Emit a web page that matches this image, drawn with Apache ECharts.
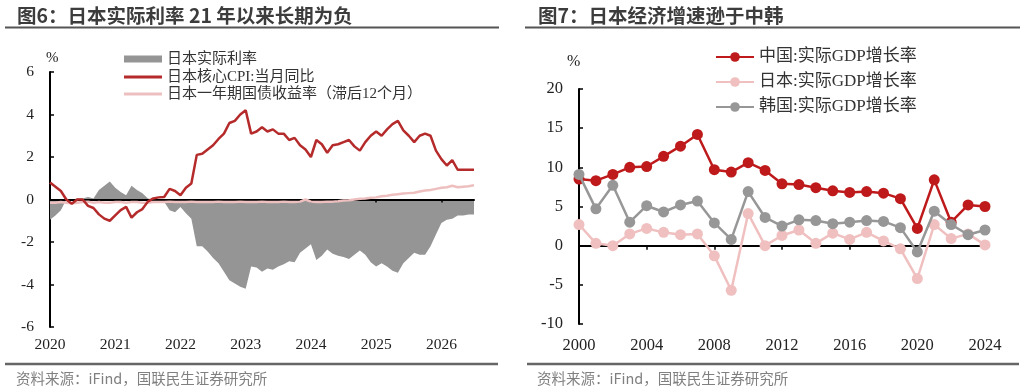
<!DOCTYPE html>
<html>
<head>
<meta charset="utf-8">
<script src="https://cdn.jsdelivr.net/npm/echarts@6/dist/echarts.min.js"></script>
<style>
html,body{margin:0;padding:0;background:#fff;}
#c{width:1024px;height:392px;}
</style>
</head>
<body>
<div id="c"></div>
<script>
// ---------- Left chart data (monthly, 2020-01 .. 2026-07) ----------
var leftYears = [2020, 2021, 2022, 2023, 2024, 2025, 2026];
var leftMonthCount = 79;
var realRate = [-0.95,-0.75,-0.5,0,0,0.05,0.05,0.12,0.05,0.45,
  0.65,0.85,0.55,0.35,0.2,0.65,0.45,0.3,0.05,0,
  -0.1,-0.1,-0.5,-0.6,-0.35,-0.65,-0.9,-2.2,-2.2,-2.45,
  -2.75,-3.0,-3.4,-3.8,-3.95,-4.1,-4.2,-3.15,-3.2,-3.4,
  -3.25,-3.3,-3.15,-3.05,-2.9,-2.95,-2.5,-2.3,-2.1,-2.85,
  -2.65,-2.35,-2.55,-2.65,-2.7,-2.8,-2.6,-2.4,-2.6,-2.95,
  -3.15,-3.0,-3.15,-3.35,-3.45,-3.0,-2.75,-2.5,-2.6,-2.6,
  -2.2,-1.65,-1.1,-0.95,-0.9,-0.75,-0.75,-0.7,-0.7];
var coreCPI = [0.8,0.6,0.4,0.0,-0.2,0.0,0.0,-0.3,-0.4,-0.7,
  -0.9,-1.0,-0.75,-0.5,-0.35,-0.85,-0.6,-0.45,-0.1,0.05,
  0.1,0.12,0.5,0.4,0.2,0.55,0.75,2.1,2.15,2.35,
  2.55,2.85,3.1,3.6,3.7,4.0,4.2,3.1,3.2,3.4,
  3.2,3.3,3.1,3.1,2.8,2.9,2.55,2.35,2.0,2.8,
  2.6,2.2,2.55,2.6,2.7,2.8,2.5,2.3,2.7,3.0,
  3.2,3.0,3.3,3.55,3.7,3.25,3.0,2.7,3.0,3.1,
  3.0,2.3,1.9,1.6,1.85,1.4,1.4,1.4,1.4];
var jgb1yLag = [-0.15,-0.15,-0.12,-0.15,-0.18,-0.15,-0.12,-0.1,-0.15,-0.12,
  -0.15,-0.15,-0.12,-0.12,-0.15,-0.12,-0.12,-0.15,-0.15,-0.12,
  -0.12,-0.12,-0.1,-0.12,-0.12,-0.12,-0.1,-0.12,-0.12,-0.12,
  -0.12,-0.1,-0.12,-0.12,-0.12,-0.1,-0.12,-0.12,-0.12,-0.1,
  -0.12,-0.12,-0.12,-0.1,-0.12,-0.12,-0.1,0.0,-0.1,-0.12,
  -0.12,-0.1,-0.1,-0.08,-0.05,-0.03,0.0,0.03,0.05,0.08,
  0.1,0.15,0.18,0.22,0.25,0.28,0.3,0.32,0.38,0.42,
  0.45,0.5,0.55,0.58,0.65,0.58,0.6,0.62,0.67];
var leftNames = ['日本实际利率', '日本核心CPI:当月同比', '日本一年期国债收益率（滞后12个月）'];

// ---------- Right chart data (annual, 2000 .. 2024) ----------
var rightYears = ['2000','2001','2002','2003','2004','2005','2006','2007','2008','2009','2010','2011','2012',
  '2013','2014','2015','2016','2017','2018','2019','2020','2021','2022','2023','2024'];
var chinaGDP = [8.5,8.3,9.1,10.0,10.1,11.4,12.7,14.2,9.7,9.4,10.6,9.6,7.9,7.8,7.4,7.0,6.8,6.9,6.7,6.0,2.2,8.4,3.0,5.2,5.0];
var japanGDP = [2.7,0.3,0.0,1.5,2.2,1.7,1.4,1.5,-1.3,-5.7,4.1,0.0,1.3,2.0,0.3,1.6,0.8,1.7,0.6,-0.4,-4.2,2.7,0.9,1.5,0.1];
var koreaGDP = [9.1,4.7,7.7,3.0,5.1,4.3,5.2,5.7,2.9,0.8,6.9,3.6,2.5,3.3,3.2,2.8,3.0,3.2,3.1,2.3,-0.8,4.4,2.7,1.4,2.0];
var rightNames = ['中国:实际GDP增长率', '日本:实际GDP增长率', '韩国:实际GDP增长率'];

var leftYTicks = {min: -6, max: 6, interval: 2};
var rightYTicks = {min: -10, max: 20, interval: 5};

// month categories
var months = [];
for (var k = 0; k < leftMonthCount; k++) {
  var y = leftYears[0] + Math.floor(k / 12);
  var m = (k % 12) + 1;
  months.push(y + '-' + (m < 10 ? '0' + m : m));
}

var SERIF = '"Liberation Serif", "Times New Roman", "Noto Sans CJK SC", serif';
var SANS = '"Noto Sans CJK SC", "Noto Sans", sans-serif';
var RED_L = '#B52A2A', PINK_L = '#EDBFBF', GRAY_A = '#959595';
var RED_R = '#BE1A1C', PINK_R = '#F0C0C0', GRAY_R = '#979797';

var chart = echarts.init(document.getElementById('c'), null, {renderer: 'canvas'});

function legendItem(name, left, top, iw, ih, fs, lh, icon) {
  var d = {name: name};
  if (icon) d.icon = icon;
  return {
    data: [d], left: left, top: top, orient: 'horizontal',
    itemWidth: iw, itemHeight: ih, itemGap: 0, padding: 0,
    selectedMode: false,
    textStyle: {fontFamily: SERIF, fontSize: fs, lineHeight: lh, color: '#333'}
  };
}

var option = {
  animation: false,
  backgroundColor: '#fff',
  grid: [
    {left: 50, top: 72, width: 424, height: 255},
    {left: 579, top: 89, width: 406, height: 235}
  ],
  legend: [
    legendItem(leftNames[0], 124, 51, 38, 7, 15, 16, 'rect'),
    legendItem(leftNames[1], 124, 69, 38, 3, 15, 16, 'rect'),
    legendItem(leftNames[2], 124, 86, 38, 3, 15, 16, 'rect'),
    legendItem(rightNames[0], 715, 48, 38, 12, 17, 18),
    legendItem(rightNames[1], 715, 73, 38, 12, 17, 18),
    legendItem(rightNames[2], 715, 98, 38, 12, 17, 18)
  ],
  xAxis: [
    { // left: labels at bottom
      type: 'category', gridIndex: 0, data: months, boundaryGap: false, position: 'bottom',
      axisLine: {show: false, onZero: false}, axisTick: {show: false},
      axisLabel: {interval: function (i) { return i % 12 === 0; },
        formatter: function (v) { return v.slice(0, 4); },
        margin: 10, fontFamily: SERIF, fontSize: 15.5, color: '#222'},
      splitLine: {show: false}
    },
    { // left: zero line
      type: 'category', gridIndex: 0, data: months, boundaryGap: false, position: 'bottom', z: 3,
      axisLine: {show: true, onZero: true, lineStyle: {color: '#000', width: 2}},
      axisTick: {show: true, length: 3, interval: function (i) { return i % 12 === 0 && i > 0; },
        lineStyle: {color: '#000', width: 1.5}},
      axisLabel: {show: false}, splitLine: {show: false}
    },
    { // right: labels at bottom
      type: 'category', gridIndex: 1, data: rightYears, boundaryGap: false, position: 'bottom',
      axisLine: {show: false, onZero: false}, axisTick: {show: false},
      axisLabel: {interval: 3, margin: 13, fontFamily: SERIF, fontSize: 16.5, color: '#222'},
      splitLine: {show: false}
    },
    { // right: zero line
      type: 'category', gridIndex: 1, data: rightYears, boundaryGap: false, position: 'bottom', z: 1,
      axisLine: {show: true, onZero: true, lineStyle: {color: '#000', width: 2}},
      axisTick: {show: true, length: 4, interval: function (i) { return i % 4 === 0 && i > 0; },
        lineStyle: {color: '#000', width: 1.5}},
      axisLabel: {show: false}, splitLine: {show: false}
    }
  ],
  yAxis: [
    {
      type: 'value', gridIndex: 0, min: leftYTicks.min, max: leftYTicks.max, interval: leftYTicks.interval,
      axisLine: {show: true, lineStyle: {color: '#000', width: 2}},
      axisTick: {show: true, inside: true, length: 4, lineStyle: {color: '#000', width: 1.5}},
      axisLabel: {margin: 16, fontFamily: SERIF, fontSize: 15.5, color: '#222'},
      splitLine: {show: false}
    },
    {
      type: 'value', gridIndex: 1, min: rightYTicks.min, max: rightYTicks.max, interval: rightYTicks.interval,
      axisLine: {show: true, lineStyle: {color: '#000', width: 2}},
      axisTick: {show: true, inside: true, length: 4, lineStyle: {color: '#000', width: 1.5}},
      axisLabel: {margin: 16, fontFamily: SERIF, fontSize: 16.5, color: '#222'},
      splitLine: {show: false}
    }
  ],
  series: [
    {
      name: leftNames[0], type: 'line', xAxisIndex: 0, yAxisIndex: 0, data: realRate,
      symbol: 'none', z: 1, lineStyle: {width: 0, color: GRAY_A},
      itemStyle: {color: GRAY_A}, areaStyle: {color: GRAY_A, opacity: 1}
    },
    {
      name: leftNames[1], type: 'line', xAxisIndex: 0, yAxisIndex: 0, data: coreCPI,
      symbol: 'none', z: 5, lineStyle: {width: 2.5, color: RED_L}, itemStyle: {color: RED_L}
    },
    {
      name: leftNames[2], type: 'line', xAxisIndex: 0, yAxisIndex: 0, data: jgb1yLag,
      symbol: 'none', z: 4, lineStyle: {width: 2.5, color: PINK_L}, itemStyle: {color: PINK_L}
    },
    {
      name: rightNames[0], type: 'line', xAxisIndex: 2, yAxisIndex: 1, data: chinaGDP,
      symbol: 'circle', symbolSize: 11, showAllSymbol: true, z: 3,
      lineStyle: {width: 2.5, color: RED_R}, itemStyle: {color: RED_R}
    },
    {
      name: rightNames[1], type: 'line', xAxisIndex: 2, yAxisIndex: 1, data: japanGDP,
      symbol: 'circle', symbolSize: 11, showAllSymbol: true, z: 4,
      lineStyle: {width: 2.5, color: PINK_R}, itemStyle: {color: PINK_R}
    },
    {
      name: rightNames[2], type: 'line', xAxisIndex: 2, yAxisIndex: 1, data: koreaGDP,
      symbol: 'circle', symbolSize: 11, showAllSymbol: true, z: 5,
      lineStyle: {width: 2.5, color: GRAY_R}, itemStyle: {color: GRAY_R}
    }
  ],
  graphic: [
    {type: 'text', left: 17, top: 6, style: {text: '图6：日本实际利率 21 年以来长期为负', fontFamily: SANS, fontWeight: 'bold', fontSize: 19.5, fill: '#3c3c3c'}},
    {type: 'text', left: 538, top: 6, style: {text: '图7：日本经济增速逊于中韩', fontFamily: SANS, fontWeight: 'bold', fontSize: 19.5, fill: '#3c3c3c'}},
    {type: 'line', shape: {x1: 5, y1: 27.5, x2: 499, y2: 27.5}, style: {stroke: '#555', lineWidth: 2}},
    {type: 'line', shape: {x1: 525, y1: 27.5, x2: 1020, y2: 27.5}, style: {stroke: '#555', lineWidth: 2}},
    {type: 'line', shape: {x1: 5, y1: 364, x2: 498, y2: 364}, style: {stroke: '#666', lineWidth: 2.5}},
    {type: 'line', shape: {x1: 527, y1: 364, x2: 1019, y2: 364}, style: {stroke: '#666', lineWidth: 2.5}},
    {type: 'text', left: 16, top: 371, style: {text: '资料来源：iFind，国联民生证券研究所', fontFamily: SANS, fontSize: 14.5, fill: '#808080'}},
    {type: 'text', left: 537, top: 371, style: {text: '资料来源：iFind，国联民生证券研究所', fontFamily: SANS, fontSize: 14.5, fill: '#808080'}},
    {type: 'text', left: 46, top: 51, style: {text: '%', fontFamily: SERIF, fontSize: 15, fill: '#222'}},
    {type: 'text', left: 567, top: 54, style: {text: '%', fontFamily: SERIF, fontSize: 16, fill: '#222'}}
  ]
};
chart.setOption(option);
</script>
</body>
</html>
